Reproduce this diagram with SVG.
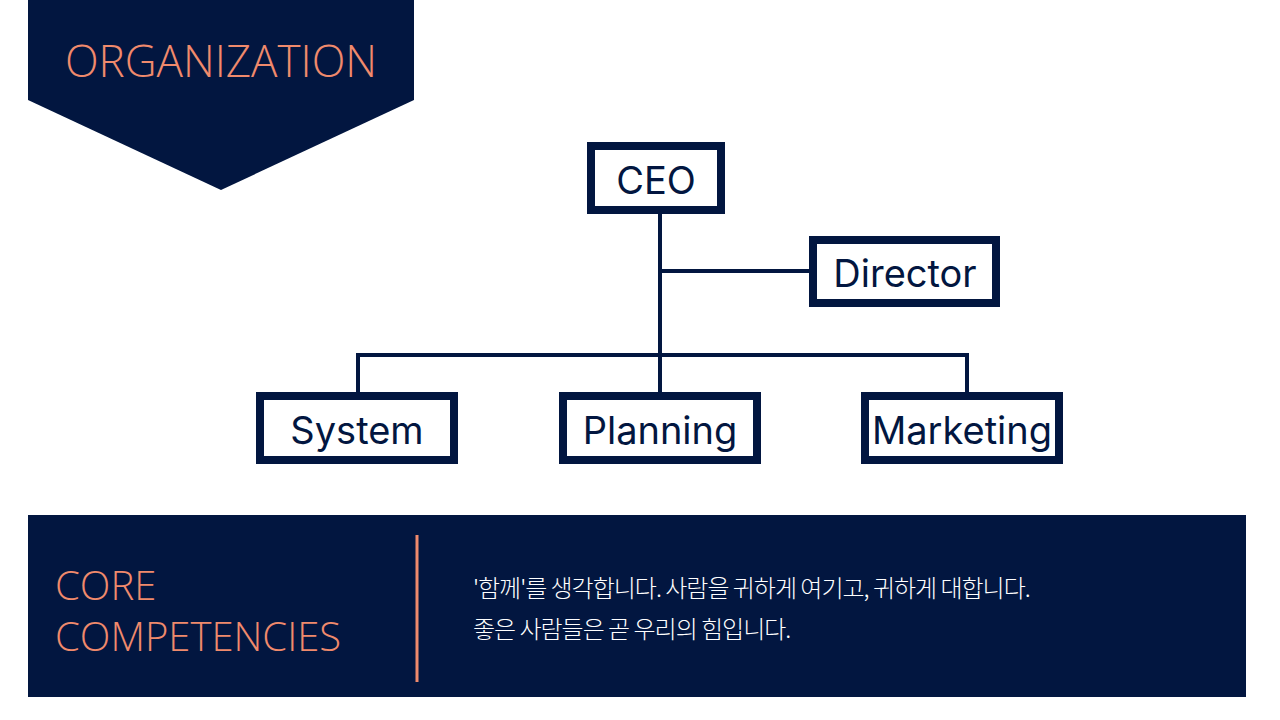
<svg xmlns="http://www.w3.org/2000/svg" width="1280" height="720" viewBox="0 0 1280 720">
<style>
.box{fill:#fff;stroke:#021640;stroke-width:8}
.lbl{font-family:Inter,"Noto Sans",sans-serif;font-size:38px;fill:#021640;text-anchor:middle}
.con{stroke:#021640;stroke-width:4;fill:none}
.org{font-family:"Open Sans","Noto Sans",sans-serif;font-weight:300;fill:#f08a6c}
</style>
<rect width="1280" height="720" fill="#fff"/>
<path d="M28 0H414V100L221 190L28 100Z" fill="#021640"/>
<text x="221" y="77" class="org" font-size="44" text-anchor="middle">ORGANIZATION</text>
<g id="connectors">
<path class="con" d="M660 214V392M660 271H809M358 392V355H967V392"/>
</g>
<g id="ceo"><rect class="box" x="591" y="146" width="130" height="64"/><text class="lbl" x="656" y="194" font-size="44">CEO</text></g>
<g id="director"><rect class="box" x="813" y="240" width="183" height="63"/><text class="lbl" x="905" y="287" font-size="36">Director</text></g>
<g id="system"><rect class="box" x="260" y="396" width="194" height="64"/><text class="lbl" x="357" y="444">System</text></g>
<g id="planning"><rect class="box" x="563" y="396" width="194" height="64"/><text class="lbl" x="660" y="444">Planning</text></g>
<g id="marketing"><rect class="box" x="865" y="396" width="194" height="64"/><text class="lbl" x="962" y="444">Marketing</text></g>
<rect x="28" y="515" width="1218" height="182" fill="#021640"/>
<text class="org" font-size="40" x="55" y="600">CORE</text>
<text class="org" font-size="40" x="55" y="651">COMPETENCIES</text>
<line x1="417" y1="535" x2="417" y2="682" stroke="#f08a6c" stroke-width="3"/>
<g font-family="'Noto Sans CJK KR',sans-serif" font-weight="300" font-size="24" fill="#fff">
<text x="473" y="597" letter-spacing="-1">'함께'를 생각합니다. 사람을 귀하게 여기고, 귀하게 대합니다.</text>
<text x="473" y="638" letter-spacing="-1">좋은 사람들은 곧 우리의 힘입니다.</text>
</g>
</svg>
